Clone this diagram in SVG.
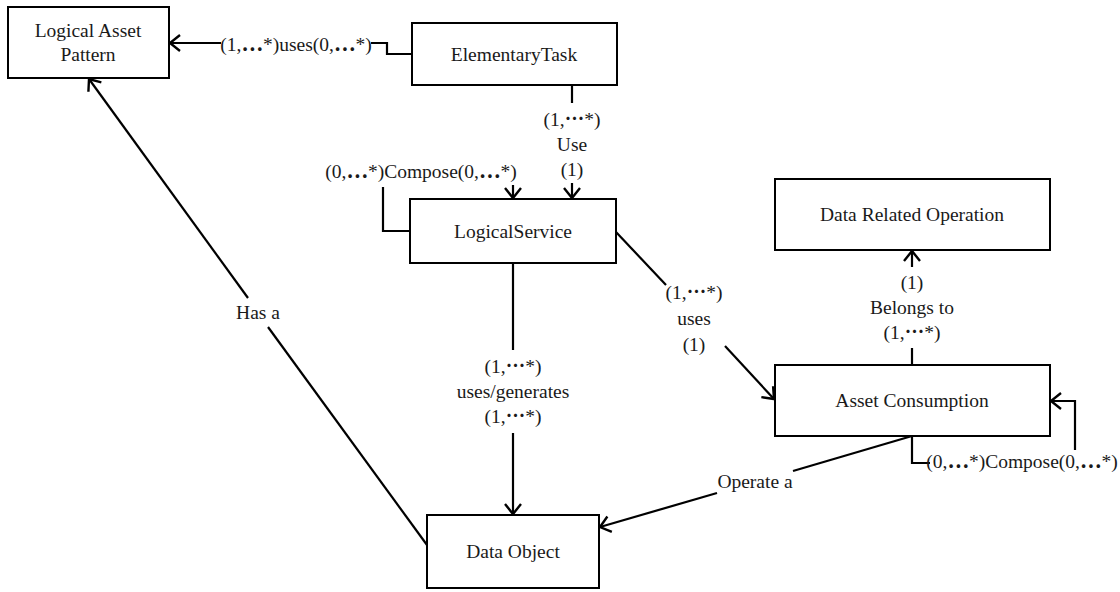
<svg xmlns="http://www.w3.org/2000/svg" width="1120" height="592" viewBox="0 0 1120 592">
<style>
.box{fill:#fff;stroke:#000;stroke-width:2}
.t{font-family:"Liberation Serif","Times New Roman",serif;font-size:19.5px;fill:#1a1a1a;text-anchor:middle}
.e{font-family:"Noto Sans CJK SC",sans-serif;font-weight:bold}
.c{fill:none;stroke:#000;stroke-width:2.2}
</style>
<defs>
<marker id="arr" markerUnits="userSpaceOnUse" markerWidth="24" markerHeight="24" refX="0" refY="0" viewBox="-12 -12 24 24" orient="auto" overflow="visible">
<path d="M-10,-8 L0,0 L-10,8" fill="none" stroke="#000" stroke-width="2.4"/>
</marker>
</defs>
<rect width="1120" height="592" fill="#fff"/>
<g id="connectors">
<path class="c" d="M412,54 H387 V43 H371"/>
<path class="c" d="M221,43 H170" marker-end="url(#arr)"/>
<text class="t" x="296" y="51">(1,<tspan class="e">⋯</tspan>*)uses(0,<tspan class="e">⋯</tspan>*)</text>
<path class="c" d="M572,85 V103"/>
<path class="c" d="M572,183 V198" marker-end="url(#arr)"/>
<text class="t" x="572" y="126">(1,<tspan class="e">⋯</tspan>*)</text>
<text class="t" x="572" y="151">Use</text>
<text class="t" x="572" y="176">(1)</text>
<path class="c" d="M410,231 H383 V187"/>
<path class="c" d="M513,185 V198" marker-end="url(#arr)"/>
<text class="t" x="421" y="178">(0,<tspan class="e">⋯</tspan>*)Compose(0,<tspan class="e">⋯</tspan>*)</text>
<path class="c" d="M616,232 L666,285"/>
<path class="c" d="M725,346 L774,399" marker-end="url(#arr)"/>
<text class="t" x="694" y="299">(1,<tspan class="e">⋯</tspan>*)</text>
<text class="t" x="694" y="325">uses</text>
<text class="t" x="694" y="351">(1)</text>
<path class="c" d="M513,263 V350"/>
<path class="c" d="M513,433 V514" marker-end="url(#arr)"/>
<text class="t" x="513" y="373">(1,<tspan class="e">⋯</tspan>*)</text>
<text class="t" x="513" y="398">uses/generates</text>
<text class="t" x="513" y="423">(1,<tspan class="e">⋯</tspan>*)</text>
<path class="c" d="M912,365 V348"/>
<path class="c" d="M912,267 V251" marker-end="url(#arr)"/>
<text class="t" x="912" y="289">(1)</text>
<text class="t" x="912" y="314">Belongs to</text>
<text class="t" x="912" y="339">(1,<tspan class="e">⋯</tspan>*)</text>
<path class="c" d="M912,436 V463 H930"/>
<path class="c" d="M1075,450 V401 H1051" marker-end="url(#arr)"/>
<text class="t" x="1022" y="468">(0,<tspan class="e">⋯</tspan>*)Compose(0,<tspan class="e">⋯</tspan>*)</text>
<path class="c" d="M912,436 L793,471"/>
<path class="c" d="M717,493 L600,527" marker-end="url(#arr)"/>
<text class="t" x="755" y="488">Operate a</text>
<path class="c" d="M427,545 L268,327"/>
<path class="c" d="M248,298 L89,79" marker-end="url(#arr)"/>
<text class="t" x="258" y="319">Has a</text>
</g>
<g id="node-lap">
<rect class="box" x="8" y="7" width="161" height="71"/>
<text class="t" x="88" y="37">Logical Asset</text>
<text class="t" x="88" y="61">Pattern</text>
</g>
<g id="node-et">
<rect class="box" x="412" y="23" width="205" height="62"/>
<text class="t" x="514" y="61">ElementaryTask</text>
</g>
<g id="node-ls">
<rect class="box" x="410" y="199" width="206" height="64"/>
<text class="t" x="513" y="238">LogicalService</text>
</g>
<g id="node-dro">
<rect class="box" x="775" y="179" width="275" height="71"/>
<text class="t" x="912" y="221">Data Related Operation</text>
</g>
<g id="node-ac">
<rect class="box" x="775" y="365" width="275" height="71"/>
<text class="t" x="912" y="407">Asset Consumption</text>
</g>
<g id="node-do">
<rect class="box" x="427" y="515" width="172" height="73"/>
<text class="t" x="513" y="558">Data Object</text>
</g>
</svg>
